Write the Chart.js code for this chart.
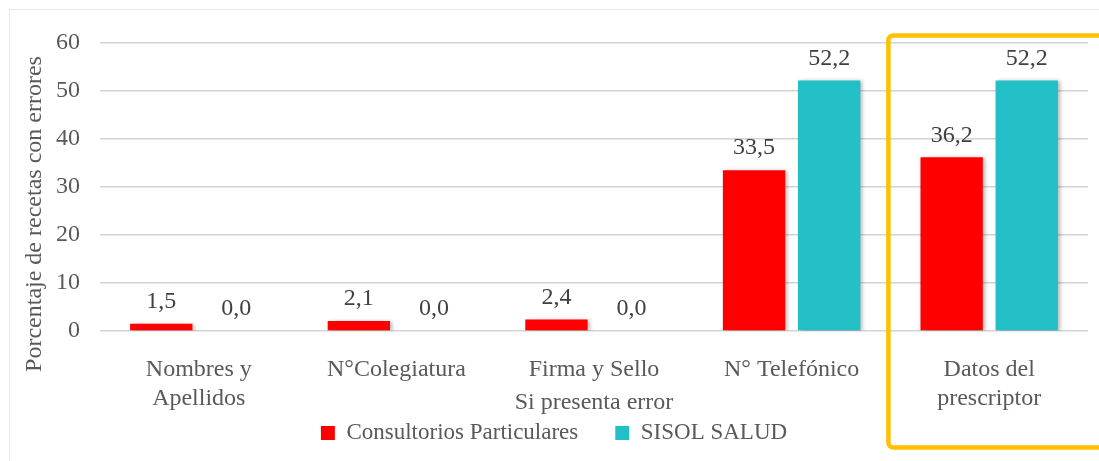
<!DOCTYPE html>
<html>
<head>
<meta charset="utf-8">
<script src="https://cdn.jsdelivr.net/npm/chart.js@4"></script>
<style>
  html, body { margin: 0; padding: 0; background: #fff; overflow: hidden; }
  #wrap { position: relative; width: 1099px; height: 461px; }
  #frame { position: absolute; left: 9px; top: 9px; width: 1200px; height: 600px; border: 1.5px solid #e9e9de; }
  canvas { position: absolute; left: 0; top: 0; }
</style>
</head>
<body>
<div id="wrap">
  <div id="frame"></div>
  <canvas id="chart" width="1099" height="461"></canvas>
</div>
<script>
const categories = [['Nombres y', 'Apellidos'], 'N°Colegiatura', 'Firma y Sello', 'N° Telefónico', ['Datos del', 'prescriptor']];
const seriesNames = ['Consultorios Particulares', 'SISOL SALUD'];
const consultorios = [1.5, 2.1, 2.4, 33.5, 36.2];
const sisol = [0.0, 0.0, 0.0, 52.2, 52.2];
const yTicks = [0, 10, 20, 30, 40, 50, 60];
const highlightIndex = 4;

const serif = "'Liberation Serif', 'Times New Roman', serif";
const textGrey = '#595959';

// shadow under the bars
const barShadow = {
    id: 'barShadow',
    beforeDatasetsDraw(chart) {
        const ctx = chart.ctx;
        ctx.save();
        ctx.shadowColor = 'rgba(0,0,0,0.3)';
        ctx.shadowBlur = 4;
        ctx.shadowOffsetX = 2;
        ctx.shadowOffsetY = 1;
    },
    afterDatasetsDraw(chart) {
        chart.ctx.restore();
    }
};

const valueLabels = {
    id: 'valueLabels',
    afterDatasetsDraw(chart) {
        const ctx = chart.ctx;
        ctx.save();
        ctx.font = '24px ' + serif;
        ctx.fillStyle = '#404040';
        ctx.textAlign = 'center';
        ctx.textBaseline = 'middle';
        chart.data.datasets.forEach((ds, i) => {
            chart.getDatasetMeta(i).data.forEach((bar, j) => {
                ctx.fillText(ds.data[j].toFixed(1).replace('.', ','), bar.x, bar.y - 22);
            });
        });
        ctx.restore();
    }
};

const extras = {
    id: 'extras',
    afterDraw(chart) {
        const ctx = chart.ctx;
        const x = chart.scales.x;
        const y = chart.scales.y;
        // y axis title
        ctx.save();
        ctx.font = '24px ' + serif;
        ctx.fillStyle = textGrey;
        ctx.textAlign = 'center';
        ctx.textBaseline = 'middle';
        ctx.translate(35, 214);
        ctx.rotate(-Math.PI / 2);
        ctx.fillText('Porcentaje de recetas con errores', 0, 0);
        ctx.restore();

        // highlight box around the last category
        const left = (x.getPixelForValue(highlightIndex - 1) + x.getPixelForValue(highlightIndex)) / 2 - 2;
        const top = y.getPixelForValue(yTicks[yTicks.length - 1]) - 7.5;
        const bottom = chart.height - 13.5;
        const right = chart.width + 20;
        ctx.save();
        ctx.strokeStyle = '#FFC000';
        ctx.lineWidth = 4.5;
        ctx.beginPath();
        ctx.roundRect(left, top, right - left, bottom - top, 5);
        ctx.stroke();
        ctx.restore();
    }
};

new Chart(document.getElementById('chart'), {
    type: 'bar',
    data: {
        labels: categories,
        datasets: [
            { label: seriesNames[0], data: consultorios, backgroundColor: '#FF0000' },
            { label: seriesNames[1], data: sisol, backgroundColor: '#23BFC7' }
        ]
    },
    options: {
        responsive: false,
        animation: false,
        devicePixelRatio: 1,
        categoryPercentage: 0.76,
        barPercentage: 0.83,
        layout: { padding: { top: 43, right: 11, left: 20, bottom: 6.5 } },
        plugins: {
            legend: {
                position: 'bottom',
                labels: {
                    font: { family: serif, size: 23 },
                    color: textGrey,
                    boxWidth: 14,
                    boxHeight: 14,
                    padding: 37
                }
            },
            tooltip: { enabled: false }
        },
        scales: {
            x: {
                grid: { display: false },
                border: { display: false },
                ticks: {
                    font: { family: serif, size: 24 },
                    color: textGrey,
                    padding: 16.5,
                    maxRotation: 0
                },
                title: {
                    display: true,
                    text: 'Si presenta error',
                    font: { family: serif, size: 24 },
                    color: textGrey,
                    padding: { top: 0, bottom: -33 }
                },
                afterFit(scale) {
                    scale.height = 53.5;
                    // two-line labels reach below the (shortened) axis box
                    scale._computeLabelArea = () => null;
                }
            },
            y: {
                min: 0,
                max: 60,
                afterBuildTicks(scale) { scale.ticks = yTicks.map(v => ({ value: v })); },
                grid: { color: '#d4d4d4', lineWidth: 1.5, drawTicks: false },
                border: { display: false },
                ticks: {
                    font: { family: serif, size: 24 },
                    color: textGrey,
                    padding: 20
                },
                afterFit(scale) { scale.width = 80; }
            }
        }
    },
    plugins: [barShadow, valueLabels, extras]
});
</script>
</body>
</html>
